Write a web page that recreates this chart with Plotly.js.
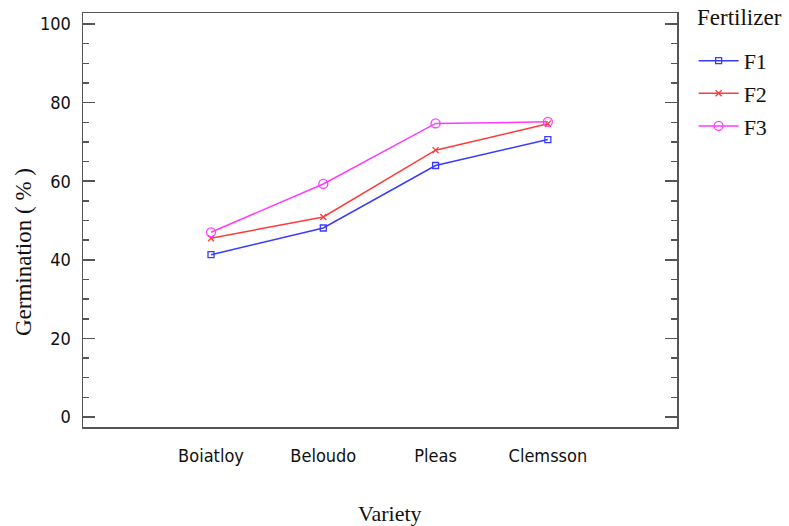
<!DOCTYPE html>
<html>
<head>
<meta charset="utf-8">
<script src="https://cdn.plot.ly/plotly-3.0.1.min.js"></script>
<style>html,body{margin:0;padding:0;background:#fff;}#chart{width:789px;height:526px;}</style>
</head>
<body>
<div id="chart"></div>
<script>
const varieties = ["Boiatloy", "Beloudo", "Pleas", "Clemsson"];
const seriesNames = ["F1", "F2", "F3"];
const f1 = [41.3, 48.1, 64.0, 70.6];
const f2 = [45.5, 50.9, 67.9, 74.6];
const f3 = [47.0, 59.3, 74.7, 75.1];
const yTicks = [0, 20, 40, 60, 80, 100];
const legendTitle = "Fertilizer";
const xTitle = "Variety";
const yTitle = "Germination ( % )";

const colors = ["#3a3aff", "#ff3a3a", "#ff3aff"];
const symbols = ["square-open", "x-thin-open", "circle-open"];
const values = [f1, f2, f3];

const traces = values.map((v, i) => ({
  x: varieties.map((_, k) => k),
  y: v,
  name: seriesNames[i],
  legendgroup: seriesNames[i],
  type: "scatter",
  mode: "lines+markers",
  line: {color: colors[i], width: 1.5},
  marker: {symbol: symbols[i], size: i === 2 ? 9 : 6, color: colors[i], line: {color: colors[i], width: 1.3}}
}));

const tickFont = {family: "'DejaVu Sans Condensed', 'Liberation Sans Narrow', 'Arial Narrow', sans-serif", size: 18, color: "#111"};
const serif = {family: "'Liberation Serif', 'Times New Roman', serif", size: 22, color: "#111"};
const serifTitle = {family: "'Liberation Serif', 'Times New Roman', serif", size: 23, color: "#111"};

const layout = {
  width: 789, height: 526,
  margin: {l: 83, r: 112, t: 13, b: 99, autoexpand: false},
  paper_bgcolor: "#fff", plot_bgcolor: "#fff",
  showlegend: true,
  legend: {
    x: 1.028, xanchor: "left", y: 0.935, yanchor: "top",
    font: serif, tracegroupgap: 1, itemwidth: 40
  },
  annotations: [
    {text: legendTitle, xref: "paper", yref: "paper",
     x: 1.03, xanchor: "left", y: 0.988, yanchor: "middle",
     showarrow: false, font: serifTitle},
    {text: xTitle, xref: "paper", yref: "paper",
     x: 0.517, xanchor: "center", y: -0.208, yanchor: "middle",
     showarrow: false, font: serif},
    {text: yTitle, xref: "paper", yref: "paper", textangle: -90,
     x: -0.101, xanchor: "center", y: 0.4227, yanchor: "middle",
     showarrow: false, font: serifTitle}
  ],
  xaxis: {
    range: [-1.14, 4.15],
    tickvals: varieties.map((_, k) => k),
    ticktext: varieties,
    showgrid: false, zeroline: false,
    showline: true, mirror: true, linecolor: "#555", linewidth: 1.5,
    ticks: "", tickfont: tickFont, ticklabelstandoff: 12
  },
  yaxis: {
    range: [-2.54, 102.8],
    tickvals: yTicks,
    showgrid: false, zeroline: false,
    showline: true, mirror: "ticks", linecolor: "#555", linewidth: 1.5,
    ticks: "inside", ticklen: 12, tickwidth: 1.5, tickcolor: "#555",
    minor: {dtick: 5, ticks: "inside", ticklen: 6, tickwidth: 1.5, tickcolor: "#555"},
    tickfont: tickFont, ticklabelstandoff: 7
  }
};

Plotly.newPlot("chart", traces, layout, {displayModeBar: false, staticPlot: true});
</script>
</body>
</html>
